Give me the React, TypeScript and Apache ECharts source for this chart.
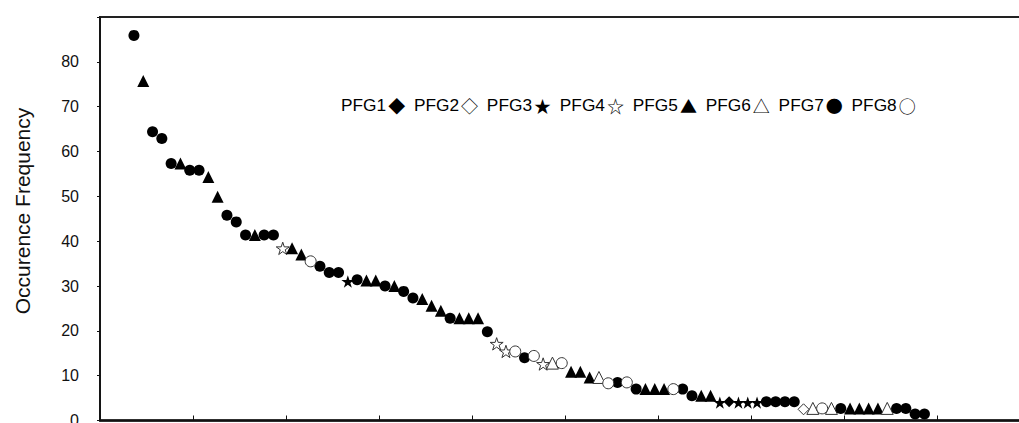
import React, { useEffect, useRef } from "react";
import * as echarts from "echarts";

// group index (1..8) of each ranked point, in rank order
const pointGroups: number[] = [
  7, 5, 7, 7, 7, 5, 7, 7, 5, 5,
  7, 7, 7, 5, 7, 7, 4, 5, 5, 8,
  7, 7, 7, 3, 7, 5, 5, 7, 5, 7,
  7, 5, 5, 5, 7, 5, 5, 5, 7, 4,
  4, 8, 7, 8, 4, 6, 8, 5, 5, 5,
  6, 8, 7, 8, 7, 5, 5, 5, 8, 7,
  7, 5, 5, 3, 1, 3, 3, 3, 7, 7,
  7, 7, 2, 6, 8, 6, 7, 5, 5, 5,
  5, 6, 7, 7, 7, 7,
];

// occurrence frequency of each ranked point
const pointValues: number[] = [
  85.9, 75.7, 64.4, 62.9, 57.3, 57.3, 55.8, 55.8, 54.3, 49.9,
  45.8, 44.3, 41.4, 41.4, 41.4, 41.4, 38.4, 38.4, 37.0, 35.5,
  34.4, 33.0, 33.0, 31.0, 31.4, 31.2, 31.2, 30.0, 30.0, 28.8,
  27.3, 27.1, 25.6, 24.5, 22.8, 22.8, 22.8, 22.8, 19.8, 17.1,
  15.4, 15.4, 14.0, 14.4, 12.6, 12.8, 12.8, 10.9, 10.9, 9.6,
  9.6, 8.3, 8.5, 8.5, 7.0, 7.0, 7.0, 7.0, 7.0, 7.0,
  5.5, 5.5, 5.5, 4.0, 4.2, 4.0, 4.0, 4.0, 4.2, 4.2,
  4.2, 4.2, 2.5, 2.7, 2.7, 2.7, 2.7, 2.7, 2.7, 2.7,
  2.7, 2.7, 2.7, 2.7, 1.45, 1.45,
];

const groupNames: string[] = ["PFG1", "PFG2", "PFG3", "PFG4", "PFG5", "PFG6", "PFG7", "PFG8"];
const groupGlyphs: string[] = ["◆", "◇", "★", "☆", "▲", "△", "●", "○"];
const yTicks: number[] = [0, 10, 20, 30, 40, 50, 60, 70, 80];

const STAR =
  "path://M100,0 L122.45,69.1 L195.1,69.1 L136.3,111.8 L158.8,180.9 L100,138.2 L41.2,180.9 L63.7,111.8 L4.9,69.1 L77.55,69.1 Z";

const groupSymbol = [
  { symbol: "diamond", size: 11, filled: true },
  { symbol: "diamond", size: 11, filled: false },
  { symbol: STAR, size: 13, filled: true },
  { symbol: STAR, size: 13, filled: false },
  { symbol: "triangle", size: 12, filled: true },
  { symbol: "triangle", size: 12, filled: false },
  { symbol: "circle", size: 11, filled: true },
  { symbol: "circle", size: 11, filled: false },
];

const RANK_OFFSET = 2.65;
const FONT = 'Arial, "Liberation Sans", sans-serif';
const GLYPH_FONT = '"Noto Sans CJK SC", "Noto Sans CJK JP", "DejaVu Sans", sans-serif';

export default function App() {
  const ref = useRef<HTMLDivElement>(null);

  useEffect(() => {
    if (!ref.current) return;
    const chart = echarts.init(ref.current, undefined, { renderer: "svg" });

    const series = groupNames.map((name, gi) => {
      const st = groupSymbol[gi];
      const data: number[][] = [];
      pointValues.forEach((v, i) => {
        if (pointGroups[i] === gi + 1) data.push([i + 1 + RANK_OFFSET, v]);
      });
      return {
        name,
        type: "scatter",
        data,
        symbol: st.symbol,
        symbolSize: st.size,
        symbolKeepAspect: true,
        itemStyle: {
          color: st.filled ? "#000" : "#fff",
          borderColor: st.filled ? "#000" : "#333",
          borderWidth: st.filled ? 0 : 1,
          opacity: 1,
        },
        z: 3,
      };
    });

    const legendText = groupNames.map((n, i) => `{t|${n}}{g|${groupGlyphs[i]}}`).join("{t| }");

    chart.setOption({
      animation: false,
      backgroundColor: "#fff",
      grid: {
        left: 100,
        top: 17,
        right: -11,
        bottom: 2.5,
        outerBoundsMode: "none",
        containLabel: false,
        show: true,
        borderColor: "#222",
        borderWidth: 2,
      },
      xAxis: {
        type: "value",
        min: 0,
        max: 100,
        interval: 10,
        axisLine: { show: true, onZero: false, lineStyle: { color: "#111", width: 2.5 } },
        axisTick: { show: true, inside: true, length: 5, lineStyle: { color: "#111", width: 1 } },
        axisLabel: { show: false },
        splitLine: { show: false },
      },
      yAxis: {
        type: "value",
        min: 0,
        max: 90,
        interval: 10,
        axisLine: { show: true, lineStyle: { color: "#111", width: 1.5 } },
        axisTick: { show: true, inside: false, length: 3, lineStyle: { color: "#111" } },
        axisLabel: {
          margin: 21,
          fontSize: 16,
          fontFamily: FONT,
          color: "#111",
          formatter: (v: number) => (yTicks.includes(v) ? String(v) : ""),
        },
        splitLine: { show: false },
      },
      graphic: [
        {
          type: "text",
          x: 22,
          y: 211,
          rotation: Math.PI / 2,
          style: {
            text: "Occurence Frequency",
            fontSize: 21,
            fontFamily: FONT,
            fill: "#111",
            align: "center",
            verticalAlign: "middle",
          },
        },
        {
          type: "text",
          x: 341,
          y: 105,
          style: {
            text: legendText,
            fill: "#000",
            align: "left",
            verticalAlign: "middle",
            rich: {
              t: { fontSize: 17.3, fontFamily: FONT, fill: "#000" },
              g: { fontSize: 17, fontFamily: GLYPH_FONT, fill: "#000", padding: [0, 4, 0, 2] },
            },
          },
        },
      ],
      series,
    });

    return () => chart.dispose();
  }, []);

  return (
    <div
      ref={ref}
      style={{ position: "fixed", left: 0, top: 0, width: 1019, height: 423, background: "#fff" }}
    />
  );
}
